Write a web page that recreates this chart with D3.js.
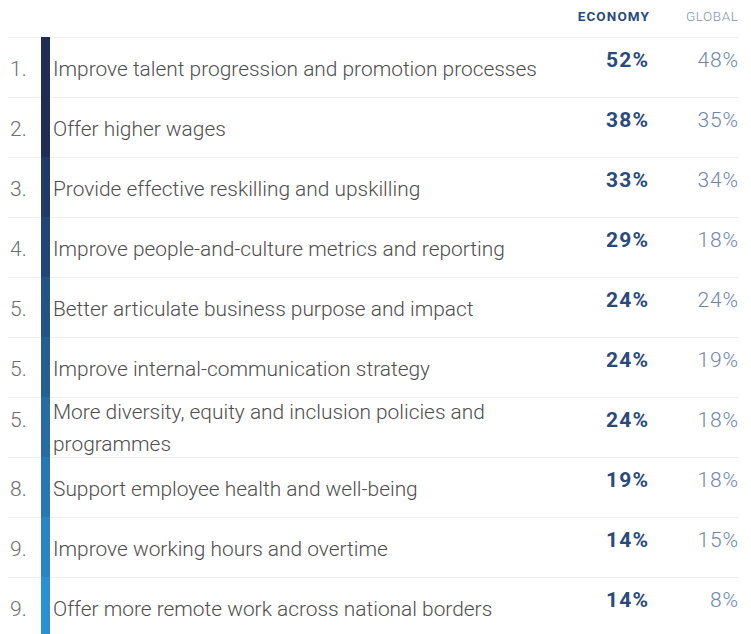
<!DOCTYPE html>
<html><head><meta charset="utf-8">
<script src="https://cdn.jsdelivr.net/npm/d3@7"></script>
<style>
html,body{margin:0;padding:0;background:#fff;}
svg{display:block;}
</style></head>
<body>
<svg id="chart" width="751" height="634"></svg>
<script>
const ranks = ["1.","2.","3.","4.","5.","5.","5.","8.","9.","9."];
const categories = [
  "Improve talent progression and promotion processes",
  "Offer higher wages",
  "Provide effective reskilling and upskilling",
  "Improve people-and-culture metrics and reporting",
  "Better articulate business purpose and impact",
  "Improve internal-communication strategy",
  "More diversity, equity and inclusion policies and programmes",
  "Support employee health and well-being",
  "Improve working hours and overtime",
  "Offer more remote work across national borders"
];
const economyValues = [52,38,33,29,24,24,24,19,14,14];
const globalValues = [48,35,34,18,24,19,18,18,15,8];
const columnHeaders = ["ECONOMY","GLOBAL"];

const svg = d3.select("#chart");
const fontFamily = "Roboto, 'Liberation Sans', sans-serif";

const y = d3.scaleBand().domain(d3.range(categories.length)).range([37, 37 + 60*categories.length]).padding(0);
const color = d3.scaleLinear().domain([1, 9]).range(["#1f2c56", "#2a90d0"]).clamp(true).interpolate(d3.interpolateRgb);
const fmt = v => v + "%";

// headers (trailing letter-spacing compensated in x)
svg.append("text").attr("x", 650).attr("y", 21).attr("text-anchor","end")
  .attr("font-family", fontFamily).attr("font-weight", 700).attr("font-size", 13.5)
  .attr("fill", "#2b4a7c").attr("letter-spacing", "1.1").text(columnHeaders[0]);
svg.append("text").attr("x", 738.5).attr("y", 21).attr("text-anchor","end")
  .attr("font-family", fontFamily).attr("font-weight", 300).attr("font-size", 13.5)
  .attr("fill", "#7f93b5").attr("letter-spacing", "0.6").text(columnHeaders[1]);

const rows = svg.selectAll("g.row").data(categories).join("g").attr("class","row")
  .attr("transform", (d,i) => `translate(0,${y(i)})`);

// separator lines
rows.append("line").attr("x1", 8).attr("x2", 738).attr("y1", 0.5).attr("y2", 0.5)
  .attr("stroke", "#f0f0f0").attr("stroke-width", 1);

// colored bar segments
rows.append("rect").attr("x", 41).attr("y", 0).attr("width", 9).attr("height", y.bandwidth())
  .attr("fill", (d,i) => color(i));

// labels with wrapping
const maxW = 520;
rows.each(function(d, i) {
  const g = d3.select(this);
  const t = g.append("text").attr("x", 53).attr("font-family", fontFamily)
    .attr("font-weight", 300).attr("font-size", 20.9).attr("fill", "#4e4e4e");
  const words = d.split(" ");
  let lines = [], cur = [];
  const probe = t.append("tspan");
  words.forEach(w => {
    cur.push(w);
    probe.text(cur.join(" "));
    if (probe.node().getComputedTextLength() > maxW && cur.length > 1) {
      cur.pop(); lines.push(cur.join(" ")); cur = [w];
    }
  });
  lines.push(cur.join(" "));
  probe.remove();
  const baseY = lines.length === 1 ? 39 : 22;
  lines.forEach((ln, k) => {
    t.append("tspan").attr("x", 53).attr("y", baseY + k*32).text(ln);
  });
  g.append("text").attr("x", 10).attr("y", lines.length === 1 ? 39 : 30)
    .attr("font-family", fontFamily).attr("font-weight", 300).attr("font-size", 21)
    .attr("fill", "#6e6e6e").text(ranks[i]);
  g.append("text").attr("x", 649.2).attr("y", 30).attr("text-anchor","end")
    .attr("font-family", fontFamily).attr("font-weight", 700).attr("font-size", 21)
    .attr("fill", "#2b4a7c").attr("letter-spacing", "1.2").text(fmt(economyValues[i]));
  g.append("text").attr("x", 738.8).attr("y", 30).attr("text-anchor","end")
    .attr("font-family", fontFamily).attr("font-weight", 300).attr("font-size", 21)
    .attr("fill", "#6f86ab").attr("letter-spacing", "0.8").text(fmt(globalValues[i]));
});
</script>
</body></html>
